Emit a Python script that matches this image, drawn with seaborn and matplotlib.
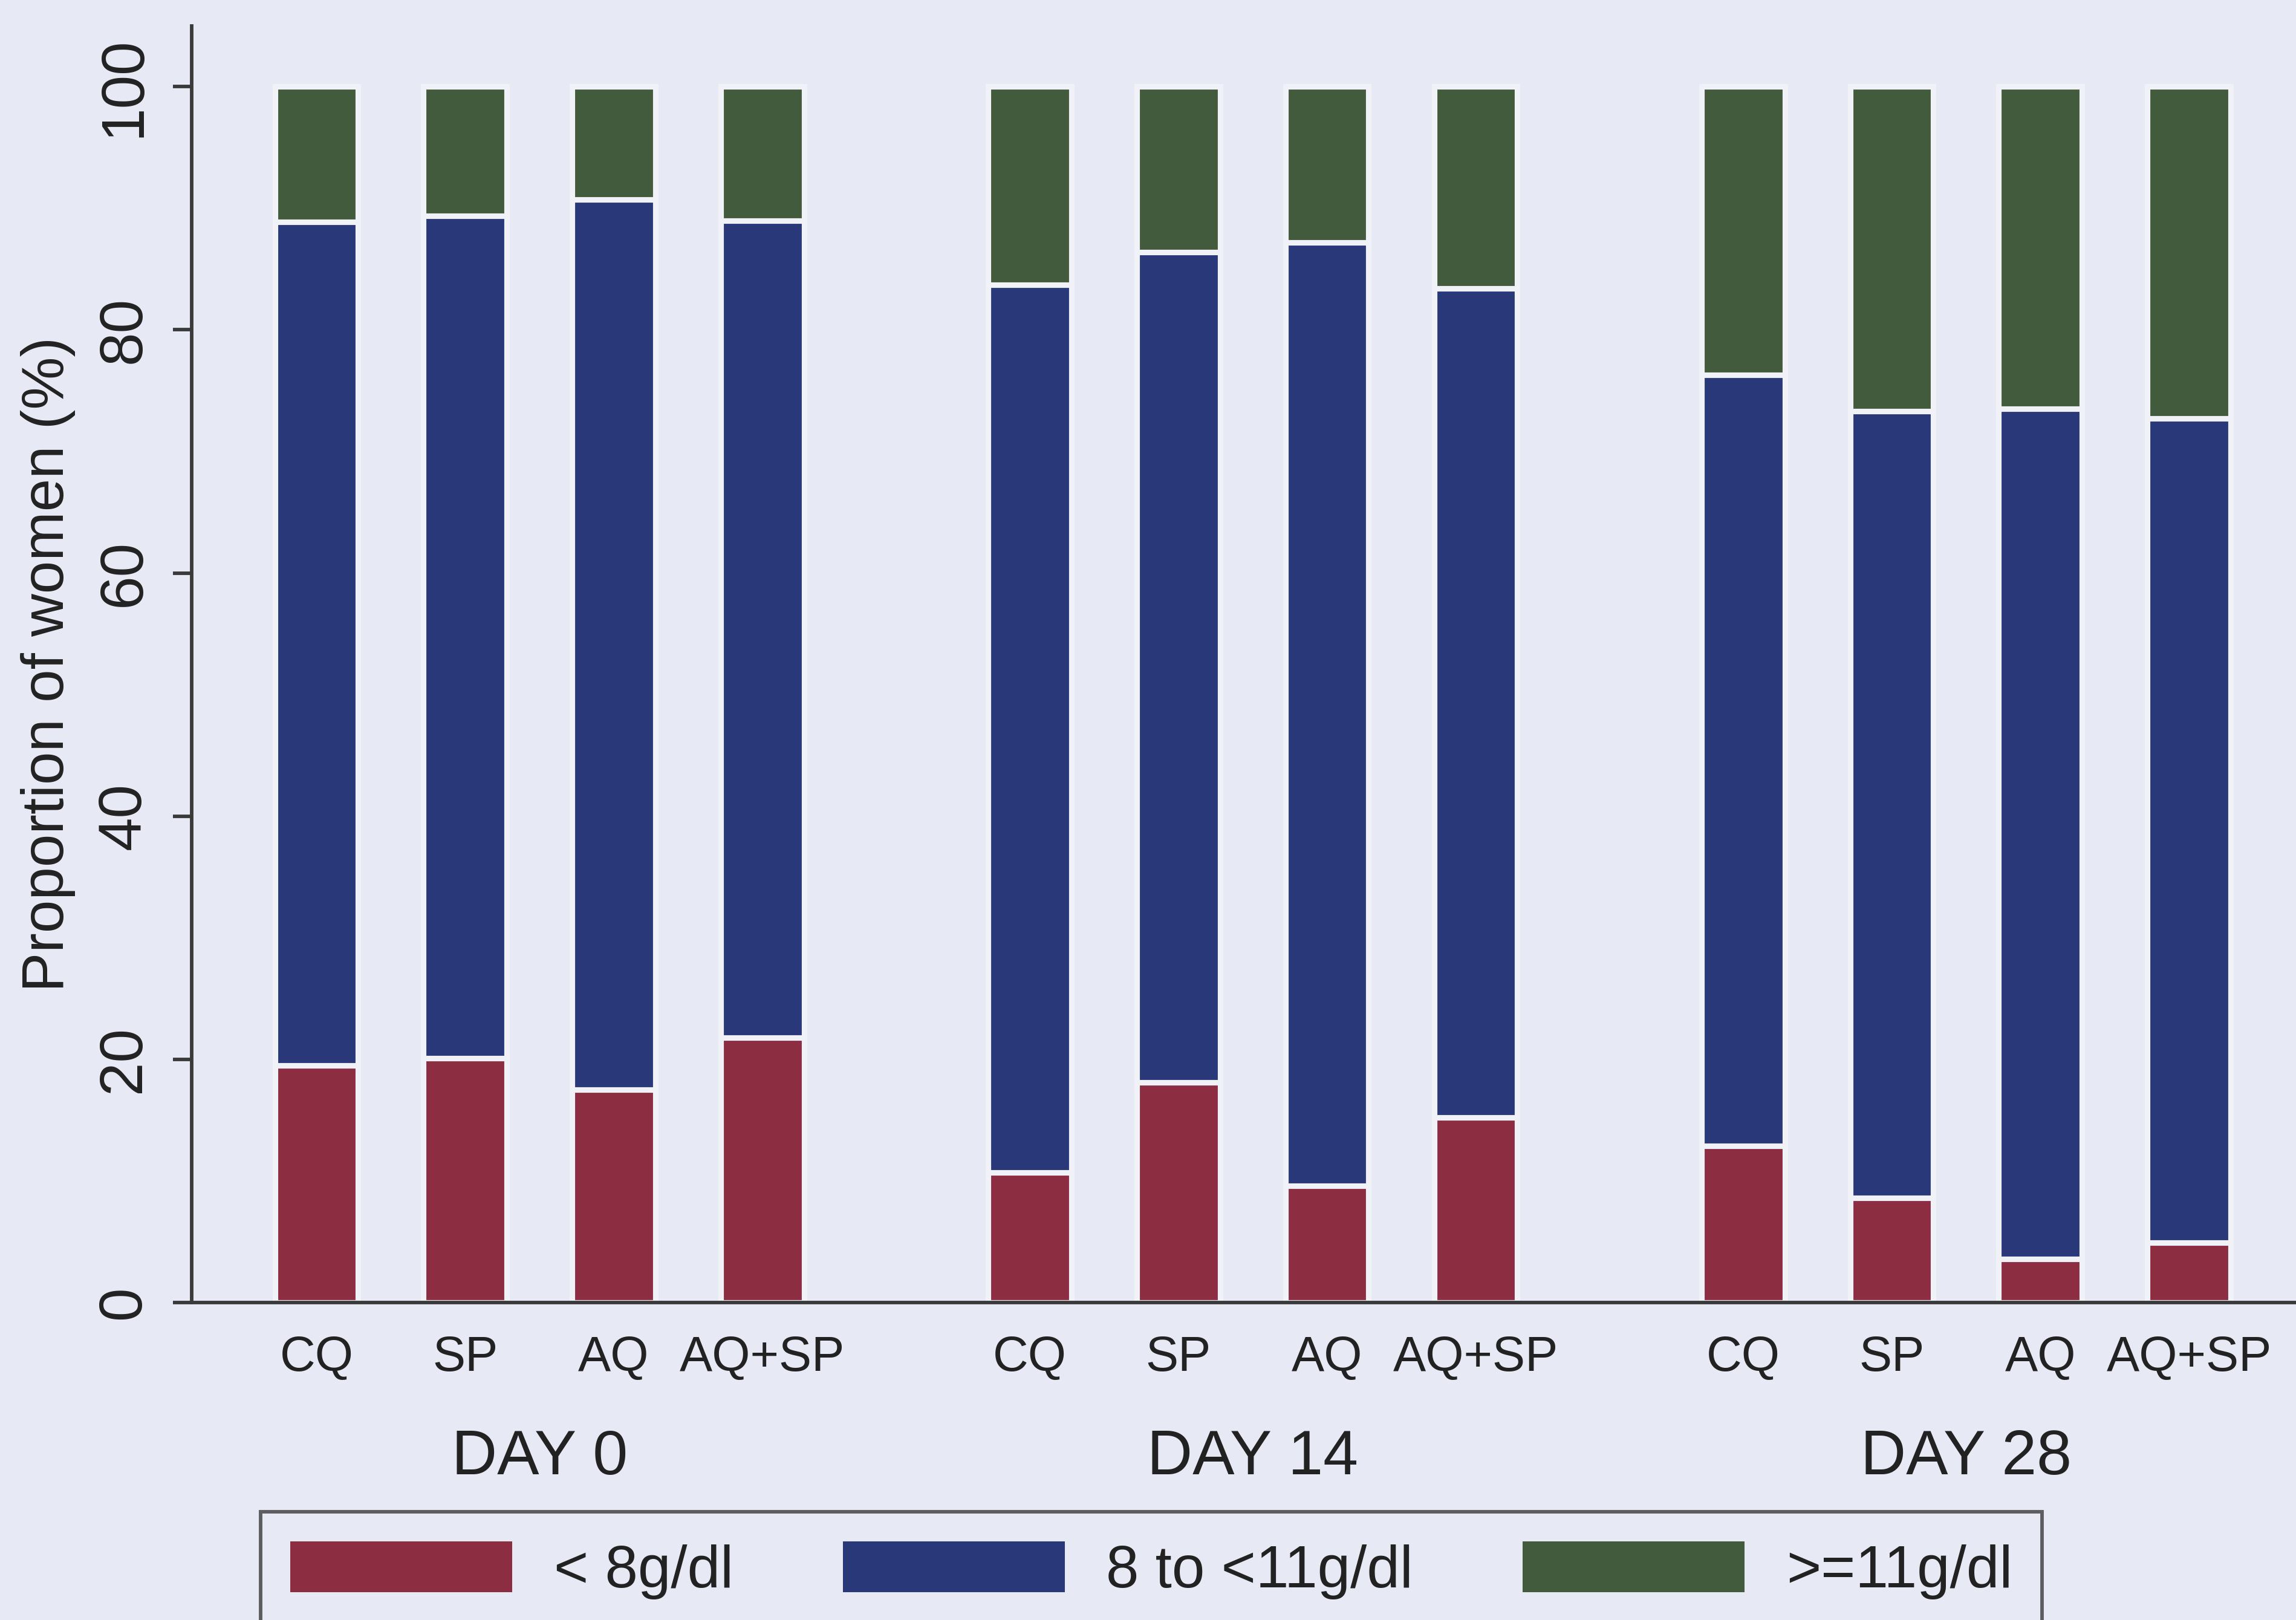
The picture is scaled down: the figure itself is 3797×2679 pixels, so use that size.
import numpy as np
import pandas as pd
import matplotlib
matplotlib.use("Agg")
import matplotlib.pyplot as plt
import matplotlib.transforms as mtransforms
import seaborn as sns

days = ["DAY 0", "DAY 14", "DAY 28"]
drugs = ["CQ", "SP", "AQ", "AQ+SP"]
categories = ["< 8g/dl", "8 to <11g/dl", ">=11g/dl"]

# percentages per bar, order: day0 CQ,SP,AQ,AQ+SP, day14 ..., day28 ...
low = [19.5, 20.1, 17.5, 21.8, 10.7, 18.1, 9.6, 15.2, 12.9, 8.6, 3.6, 4.9]
mid = [69.4, 69.3, 73.2, 67.2, 73.0, 68.3, 77.6, 68.2, 63.4, 64.7, 69.9, 67.8]
high = [11.1, 10.6, 9.3, 11.0, 16.3, 13.6, 12.8, 16.6, 23.7, 26.7, 26.5, 27.3]

colors = ["#8C2D41", "#293878", "#425B3C"]
bg = "#E7E9F5"

# bar positions: 4 bars per day, a wider gap between days
pos = []
for g in range(len(days)):
    for i in range(len(drugs)):
        pos.append(g * 4.8 + i)

df = pd.DataFrame({
    "pos": pos,
    "day": np.repeat(days, len(drugs)),
    "drug": drugs * len(days),
    "low": low,
    "mid": mid,
    "high": high,
})
df["cum_mid"] = df["low"] + df["mid"]
df["cum_high"] = df["cum_mid"] + df["high"]

sns.set_style("white")
plt.rcParams["font.family"] = ["Liberation Sans", "DejaVu Sans"]

fig = plt.figure(figsize=(3797 / 300, 2679 / 300), dpi=300, facecolor=bg)
ax = fig.add_axes([0.0835, 0.196, 0.9165, 0.788])
ax.set_facecolor(bg)

# stacked bars drawn as layered cumulative bars
for col, c in zip(["cum_high", "cum_mid", "low"], colors[::-1]):
    sns.barplot(data=df, x="pos", y=col, native_scale=True, width=0.56,
                color=c, edgecolor="#F1F1F8", linewidth=2.2, saturation=1,
                errorbar=None, ax=ax)

ax.set_xlim(-0.84, 13.32)
ax.set_ylim(0, 105)
ax.set_yticks([0, 20, 40, 60, 80, 100])
ax.set_yticklabels(["0", "20", "40", "60", "80", "100"], rotation=90, va="center")
ax.set_xticks(df["pos"])
ax.set_xticklabels(df["drug"])
ax.tick_params(axis="x", length=0, pad=13, labelsize=19.5, colors="#222222")
ax.tick_params(axis="y", length=7.5, width=1.4, pad=8, labelsize=24,
               colors="#3a3a3a", labelcolor="#222222", left=True)
ax.set_xlabel("")
ax.set_ylabel("Proportion of women (%)", fontsize=23.5, color="#222222", labelpad=8)

for s in ["top", "right"]:
    ax.spines[s].set_visible(False)
for s in ["left", "bottom"]:
    ax.spines[s].set_color("#3a3a3a")
    ax.spines[s].set_linewidth(1.4)

trans = mtransforms.blended_transform_factory(ax.transData, ax.transAxes)
for g, d in enumerate(days):
    center = df.loc[df["day"] == d, "pos"].mean()
    ax.text(center, -0.122, d, transform=trans, ha="center", va="center",
            fontsize=25, color="#222222")

handles = [plt.Rectangle((0, 0), 1, 1, facecolor=c, edgecolor="none") for c in colors]
leg = fig.legend(handles, categories, loc="upper left",
                 bbox_to_anchor=(0.1135, 0.0669), ncol=3, fontsize=23.5,
                 handlelength=3.75, handleheight=0.95, handletextpad=0.7,
                 columnspacing=1.85, borderpad=0.5, borderaxespad=0,
                 frameon=True, fancybox=False)
leg.get_frame().set_facecolor(bg)
leg.get_frame().set_edgecolor("#3a3a3a")
leg.get_frame().set_linewidth(1.4)
for t in leg.get_texts():
    t.set_color("#222222")

fig.savefig("out.png", dpi=300, facecolor=bg)
